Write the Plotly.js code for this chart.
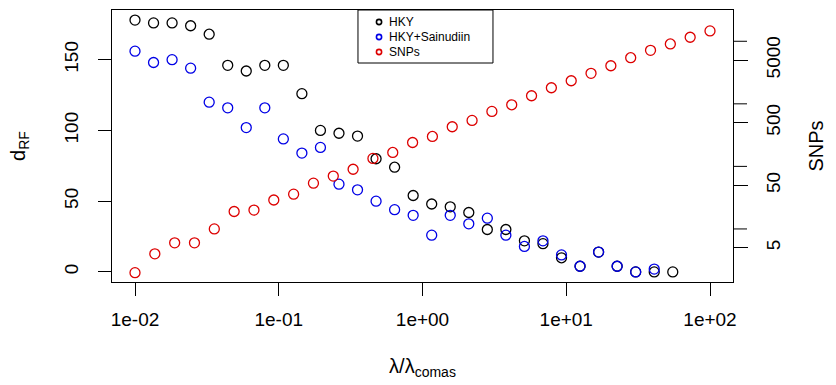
<!DOCTYPE html>
<html>
<head>
<meta charset="utf-8">
<script src="https://cdn.plot.ly/plotly-3.0.1.min.js"></script>
<style>html,body{margin:0;padding:0;background:#fff;}#chart{width:836px;height:385px;}</style>
</head>
<body>
<div id="chart"></div>
<script>
// lambda/lambda_comas grid used for the SNP counts
const xSNP = [0.01, 0.013738, 0.018874, 0.025929, 0.035622, 0.048939, 0.067234, 0.092367, 0.126896, 0.174333,
  0.239503, 0.329034, 0.452035, 0.621017, 0.853168, 1.172102, 1.610262, 2.212216, 3.039195, 4.175319,
  5.736153, 7.880463, 10.82636, 14.87352, 20.43359, 28.07216, 38.5662, 52.98317, 72.78954, 100];
// lambda/lambda_comas grid used for the RF distances
const xRF = [0.01, 0.013459, 0.018113, 0.024378, 0.03281, 0.044157, 0.059429, 0.079983, 0.107647, 0.144877,
  0.194984, 0.262422, 0.353183, 0.475335, 0.639735, 0.860994, 1.15878, 1.55955, 2.09894, 2.82488,
  3.80189, 5.11682, 6.88652, 9.2683, 12.4738, 16.788, 22.5943, 30.4089, 40.9261, 55.0809];
const hky = [178,176,176,174,168,146,142,146,146,126,100,98,96,80,74,54,48,46,42,30,30,22,20,10,4,14,4,0,0,0];
const sainudiin = [156,148,150,144,120,116,102,116,94,84,88,62,58,50,44,40,26,40,34,38,26,18,22,12,4,14,4,0,2];
const snps = [2,4,6,6,10,19,20,29,36,54,70,90,134,167,241,301,430,543,757,966,1346,1807,2339,3074,4066,5459,7173,9057,11590,14630];

const xTickVals = [0.01, 0.1, 1, 10, 100];
const xTickText = ['1e-02', '1e-01', '1e+00', '1e+01', '1e+02'];
const yTickVals = [0, 50, 100, 150];
const y2TickVals = [5, 50, 500, 5000];
const y2TickText = ['5', '50', '500', '5000'];
const y2UnlabeledTicks = [10, 100, 1000, 10000];
const seriesNames = ['HKY', 'HKY+Sainudiin', 'SNPs'];
const seriesColors = ['#000000', '#0000e6', '#dd0000'];

const FONT = 'Liberation Sans, Arial, Helvetica, sans-serif';
const mk = (c) => ({symbol: 'circle-open', size: 10, color: c, line: {width: 1.3, color: c}});

const traces = [
  {x: xRF, y: hky, type: 'scatter', mode: 'markers', name: seriesNames[0], marker: mk(seriesColors[0]), yaxis: 'y'},
  {x: xRF.slice(0, sainudiin.length), y: sainudiin, type: 'scatter', mode: 'markers', name: seriesNames[1], marker: mk(seriesColors[1]), yaxis: 'y'},
  {x: xSNP, y: snps, type: 'scatter', mode: 'markers', name: seriesNames[2], marker: mk(seriesColors[2]), yaxis: 'y2'}
];

// legend drawn as a box with small open circles and labels (paper coordinates)
const legBox = {x0: 0.3961, x1: 0.6135, y0: 0.8051, y1: 1.0};
const legRowsY = [0.9559, 0.9007, 0.8456];
const legSymX = 0.4300, legTextX = 0.4428;
const shapes = [{type: 'rect', xref: 'paper', yref: 'paper', x0: legBox.x0, x1: legBox.x1, y0: legBox.y0, y1: legBox.y1,
  line: {color: '#000', width: 1}, fillcolor: '#fff', layer: 'above'}];
const annotations = [];
seriesNames.forEach((n, i) => {
  shapes.push({type: 'circle', xref: 'paper', yref: 'paper', xsizemode: 'pixel', ysizemode: 'pixel',
    xanchor: legSymX, yanchor: legRowsY[i], x0: -2.6, x1: 2.6, y0: -2.6, y1: 2.6,
    line: {color: seriesColors[i], width: 1.6}, layer: 'above'});
  annotations.push({xref: 'paper', yref: 'paper', x: legTextX, y: legRowsY[i], xanchor: 'left', yanchor: 'middle',
    text: n, showarrow: false, font: {family: FONT, size: 12, color: '#000'}});
});
// unlabeled ticks of the right (SNPs) axis, placed on the y2 scale
y2UnlabeledTicks.forEach((v) => {
  shapes.push({type: 'line', xref: 'paper', yref: 'y2', xsizemode: 'pixel', xanchor: 1, x0: 0, x1: 14, y0: v, y1: v,
    line: {color: '#000', width: 1}, layer: 'above'});
});

const axisCommon = {
  showgrid: false, zeroline: false, ticks: 'outside', ticklen: 13, tickwidth: 1, tickcolor: '#000',
  tickfont: {family: FONT, size: 19, color: '#000'}
};

const layout = {
  width: 836, height: 385,
  margin: {l: 112, r: 103, t: 10, b: 103, pad: 0},
  paper_bgcolor: '#fff', plot_bgcolor: '#fff',
  font: {family: FONT, color: '#000'},
  showlegend: false,
  shapes: shapes,
  annotations: annotations,
  xaxis: Object.assign({}, axisCommon, {
    type: 'log', range: [-2.16, 2.16], tickvals: xTickVals, ticktext: xTickText, tickangle: 0,
    showline: true, linecolor: '#000', linewidth: 1, mirror: true, ticklabelstandoff: 7,
    title: {text: 'λ/λ<sub>comas</sub>', font: {family: FONT, size: 20, color: '#000'}, standoff: 30}
  }),
  yaxis: Object.assign({}, axisCommon, {
    range: [-7.12, 185.12], tickvals: yTickVals, tickangle: -90,
    showline: true, linecolor: '#000', linewidth: 1, mirror: true, ticklabelstandoff: 12,
    title: {text: 'd<sub>RF</sub>', font: {family: FONT, size: 20, color: '#000'}, standoff: 30}
  }),
  yaxis2: Object.assign({}, axisCommon, {
    type: 'log', overlaying: 'y', side: 'right', range: [0.152, 4.50], ticklen: 14,
    tickvals: y2TickVals, ticktext: y2TickText, tickangle: -90, showline: false, ticklabelstandoff: 9,
    title: {text: 'SNPs', font: {family: FONT, size: 20, color: '#000'}, standoff: 26}
  })
};

Plotly.newPlot('chart', traces, layout, {displayModeBar: false, staticPlot: true});
</script>
</body>
</html>
